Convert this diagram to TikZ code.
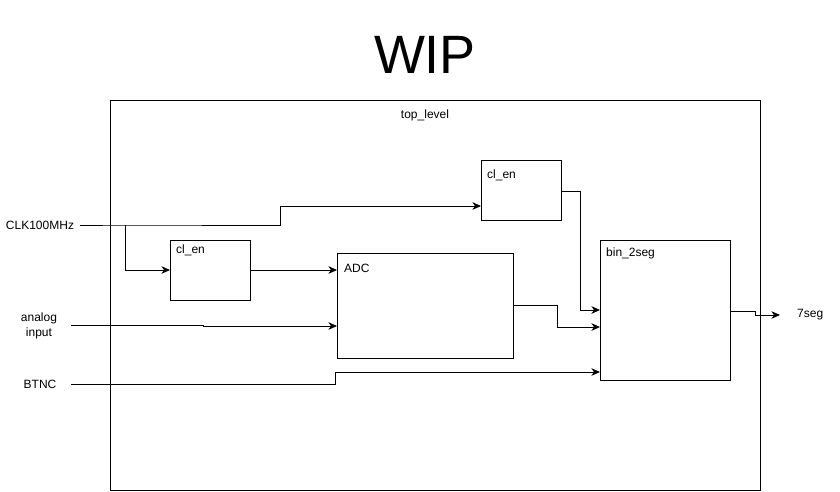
\documentclass[tikz,border=0pt]{standalone}
\usepackage{fontspec}
\setmainfont{Liberation Sans}
\usetikzlibrary{arrows.meta}
\begin{document}
\begin{tikzpicture}[x=1pt,y=-1pt,
  box/.style={draw, line width=1pt, rectangle, anchor=north west, inner sep=0pt},
  lbl/.style={font=\fontsize{12}{14}\selectfont, anchor=west, inner sep=0pt},
  io/.style={font=\fontsize{12}{15}\selectfont, align=center, inner sep=0pt},
  conn/.style={line width=1pt, -{Stealth[length=8.5pt,width=7.5pt,inset=2.5pt]}},
  wire/.style={line width=1pt}]
\useasboundingbox (0,0) rectangle (840,491);
% title
\node[font=\fontsize{54}{60}\selectfont, inner sep=0pt] (title) at (425,55) {WIP};
% outer box
\node[box, minimum width=650pt, minimum height=390pt] (top) at (110,100) {};
\node[font=\fontsize{12}{14}\selectfont, inner sep=0pt] (toplbl) at (425,115) {top\_level};
% blocks
\node[box, minimum width=80pt, minimum height=60pt] (clenB) at (481,160) {};
\node[lbl] (clenBl) at (487,175) {cl\_en};
\node[box, minimum width=80pt, minimum height=60pt] (clenA) at (170,240) {};
\node[lbl] (clenAl) at (176,250) {cl\_en};
\node[box, minimum width=176pt, minimum height=105pt] (adc) at (337,253) {};
\node[lbl] (adcl) at (344,268) {ADC};
\node[box, minimum width=130pt, minimum height=140pt] (bin) at (600,240) {};
\node[lbl] (binl) at (606,253) {bin\_2seg};
% io labels
\node[io] (clk) at (40,225) {CLK100MHz};
\node[io] (ana) at (39,326) {analog\\input};
\node[io] (btnc) at (40,384) {BTNC};
\node[io, anchor=west] (seg) at (797,315) {7seg};
% connectors
\coordinate (br) at (125,225);
\draw[conn] ([xshift=6pt]clk.east) -- (br) -- (280,225) -- (280,206) -- (clenB.west |- 0,206);
\draw[conn] (br) -- (125,270) -- (clenA.west |- 0,270);
\draw[conn] (clenA.east |- 0,270) -- (adc.west |- 0,270);
\draw[conn] (71,325) -- (203,325) -- (203,326) -- (adc.west |- 0,326);
\draw[conn] (71,384) -- (335,384) -- (335,372) -- (bin.west |- 0,372);
\draw[conn] (adc.east |- 0,305) -- (557,305) -- (557,327) -- (bin.west |- 0,327);
\draw[conn] (clenB.east |- 0,191) -- (580,191) -- (580,310) -- (bin.west |- 0,310);
\draw[conn] (bin.east |- 0,311) -- (755,311) -- (755,315) -- ([xshift=-17pt]seg.west);
\end{tikzpicture}
\end{document}
